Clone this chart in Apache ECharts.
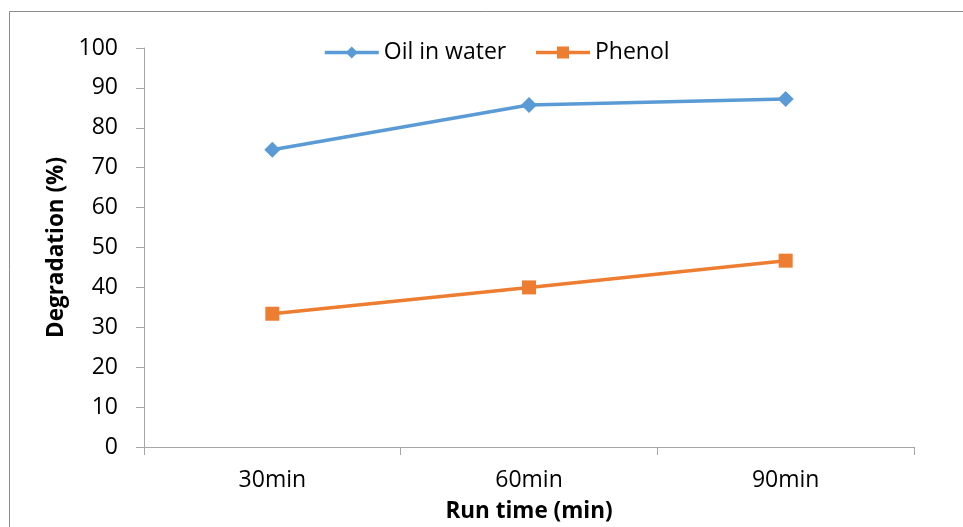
<!DOCTYPE html>
<html>
<head>
<meta charset="utf-8">
<script src="https://cdn.jsdelivr.net/npm/echarts@6/dist/echarts.min.js"></script>
<style>html,body{margin:0;padding:0;background:#fff;}#c{width:963px;height:527px;}</style>
</head>
<body>
<div id="c"></div>
<script>
const categories = ['30min', '60min', '90min'];
const oilInWater = [74.5, 85.7, 87.2];
const phenol = [33.4, 40.0, 46.7];
const yTicks = { min: 0, max: 100, interval: 10 };

const chart = echarts.init(document.getElementById('c'), null, { renderer: 'canvas' });
const font = '"Open Sans", "Noto Sans", sans-serif';
const axisColor = '#A6A6A6';
chart.setOption({
  animation: false,
  backgroundColor: '#fff',
  textStyle: { fontFamily: font },
  graphic: [{
    type: 'rect', shape: { x: 9.5, y: 11.5, width: 1000, height: 600 },
    style: { fill: 'none', stroke: '#8C8C8C', lineWidth: 1 }, silent: true, z: -1
  }],
  legend: {
    top: 41, left: 323, padding: 0,
    itemWidth: 54, itemHeight: 15, itemGap: 28,
    lineStyle: { width: 3.5 },
    textStyle: { fontSize: 23, color: '#000', fontFamily: font },
    data: ['Oil in water', 'Phenol']
  },
  grid: { left: 144, right: 49, top: 48, bottom: 80, containLabel: false, outerBoundsMode: 'none' },
  xAxis: {
    type: 'category', data: categories, boundaryGap: true,
    name: 'Run time (min)', nameLocation: 'middle', nameGap: 53,
    nameTextStyle: { fontSize: 22.5, fontWeight: 'bold', color: '#000', fontFamily: font },
    axisLine: { lineStyle: { color: axisColor, width: 1 } },
    axisTick: { show: true, length: 8, alignWithLabel: false, lineStyle: { color: axisColor } },
    axisLabel: { fontSize: 23, color: '#000', margin: 22, fontFamily: font },
    splitLine: { show: false }
  },
  yAxis: {
    type: 'value', min: yTicks.min, max: yTicks.max, interval: yTicks.interval,
    name: 'Degradation (%)', nameLocation: 'middle', nameGap: 66,
    nameTextStyle: { fontSize: 22.5, fontWeight: 'bold', color: '#000', fontFamily: font },
    axisLine: { show: true, lineStyle: { color: axisColor, width: 1 } },
    axisTick: { show: true, length: 8, lineStyle: { color: axisColor } },
    axisLabel: { fontSize: 23, color: '#000', margin: 26, fontFamily: font },
    splitLine: { show: false }
  },
  series: [
    {
      name: 'Oil in water', type: 'line', data: oilInWater,
      symbol: 'diamond', symbolSize: 16,
      lineStyle: { color: '#5B9BD5', width: 3.5 },
      itemStyle: { color: '#5B9BD5' }
    },
    {
      name: 'Phenol', type: 'line', data: phenol,
      symbol: 'rect', symbolSize: 14,
      lineStyle: { color: '#ED7D31', width: 3.5 },
      itemStyle: { color: '#ED7D31' }
    }
  ]
});
</script>
</body>
</html>
